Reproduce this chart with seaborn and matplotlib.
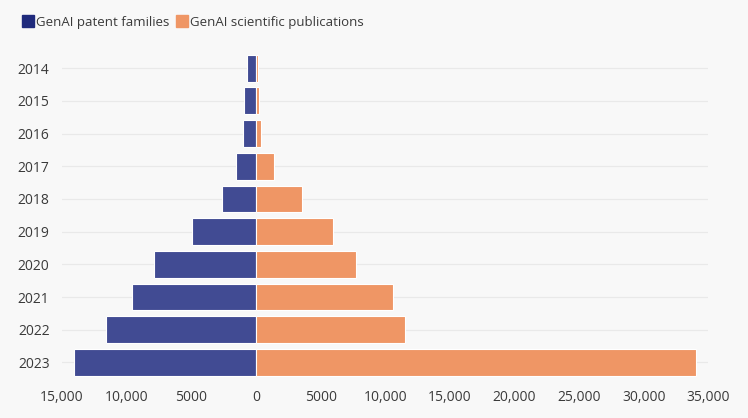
import pandas as pd
import seaborn as sns
import matplotlib.pyplot as plt
from matplotlib.lines import Line2D

# data
years = ['2014', '2015', '2016', '2017', '2018', '2019', '2020', '2021', '2022', '2023']
patent_families = [720, 900, 1030, 1520, 2600, 4930, 7860, 9610, 11600, 14080]
publications = [130, 200, 390, 1390, 3560, 5930, 7760, 10620, 11520, 34080]
tick_values = [-15000, -10000, -5000, 0, 5000, 10000, 15000, 20000, 25000, 30000, 35000]
tick_labels = ['15,000', '10,000', '5000', '0', '5000', '10,000', '15,000',
               '20,000', '25,000', '30,000', '35,000']

navy = '#414b93'
orange = '#ef9665'
bg = '#f8f8f8'
text_col = '#3a3a3a'

df = pd.DataFrame({'year': years,
                   'patents': [-v for v in patent_families],
                   'pubs': publications})

sns.set_style('white')
plt.rcParams['font.family'] = ['Open Sans', 'DejaVu Sans']

fig = plt.figure(figsize=(7.48, 4.18), dpi=100, facecolor=bg)
ax = fig.add_axes([0.083, 0.09, 0.864, 0.79])
ax.set_facecolor(bg)

sns.barplot(data=df, y='year', x='patents', color=navy, width=0.82,
            edgecolor='white', linewidth=0.8, saturation=1, ax=ax, zorder=3)
sns.barplot(data=df, y='year', x='pubs', color=orange, width=0.82,
            edgecolor='white', linewidth=0.8, saturation=1, ax=ax, zorder=3)

ax.set_xlim(-15000, 35000)
ax.set_xticks(tick_values)
ax.set_xticklabels(tick_labels)
ax.set_xlabel('')
ax.set_ylabel('')
ax.set_ylim(9.55, -0.55)

for s in ax.spines.values():
    s.set_visible(False)
ax.grid(axis='y', color='#e9e9e9', linewidth=0.9, zorder=0)
ax.grid(axis='x', visible=False)
ax.tick_params(axis='both', length=0, labelsize=10, labelcolor=text_col)
ax.tick_params(axis='y', pad=9)
ax.tick_params(axis='x', pad=7)

handles = [Line2D([], [], marker='s', linestyle='', markersize=8.5, color='#1f2a7c'),
           Line2D([], [], marker='s', linestyle='', markersize=8.5, color=orange)]
fig.legend(handles, ['GenAI patent families', 'GenAI scientific publications'],
           loc='upper left', bbox_to_anchor=(0.014, 0.99), ncol=2, frameon=False,
           fontsize=9.5, handletextpad=0.2, columnspacing=0.6, labelcolor=text_col,
           handlelength=0.8)

fig.savefig('out.png', dpi=100, facecolor=bg)
